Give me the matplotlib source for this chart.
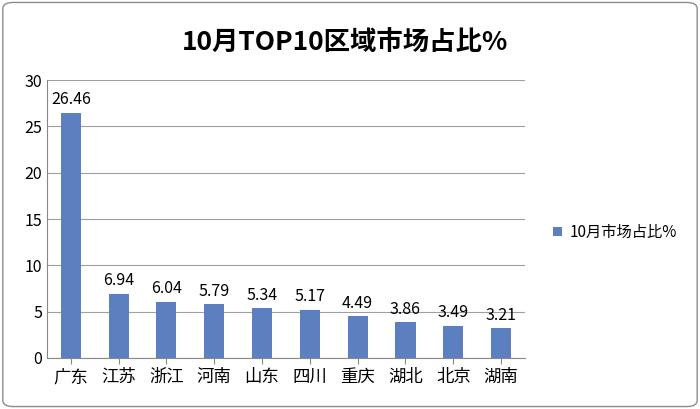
import matplotlib
matplotlib.use("Agg")
import matplotlib.pyplot as plt
from matplotlib import font_manager as fm
from matplotlib.patches import FancyBboxPatch

names = sorted({f.name for f in fm.fontManager.ttflist})
cjk = [n for n in names if "CJK" in n]
fam = cjk[0] if cjk else "DejaVu Sans"
for pref in ["Noto Sans CJK SC", "Noto Sans CJK JP"]:
    if pref in cjk:
        fam = pref
        break
plt.rcParams["font.family"] = [fam, "DejaVu Sans"]

categories = ["广东", "江苏", "浙江", "河南", "山东", "四川", "重庆", "湖北", "北京", "湖南"]
values = [26.46, 6.94, 6.04, 5.79, 5.34, 5.17, 4.49, 3.86, 3.49, 3.21]
series_name = "10月市场占比%"
title = "10月TOP10区域市场占比%"

fig = plt.figure(figsize=(7, 4.09), dpi=100)
fig.patches.append(FancyBboxPatch((0.004, 0.006), 0.992, 0.988, boxstyle="round,pad=0,rounding_size=0.015",
                                  transform=fig.transFigure, fill=False, edgecolor="#8c8c8c", linewidth=1))
ax = fig.add_axes([0.067, 0.125, 0.683, 0.679])
color = "#5B7FBF"
x = range(len(categories))
bars = ax.bar(x, values, width=0.42, color=color, label=series_name, zorder=3)
for xi, v in zip(x, values):
    ax.text(xi, v + 0.5, f"{v:.2f}", ha="center", va="bottom", fontsize=11.5)
ax.set_ylim(0, 30)
ax.set_xlim(-0.5, len(categories) - 0.5)
ax.set_yticks(range(0, 31, 5))
ax.set_xticks(list(x))
ax.set_xticklabels(categories, fontsize=12.5)
ax.tick_params(axis="y", labelsize=11.5, length=0)
ax.tick_params(axis="x", length=4, color="#888888")
ax.yaxis.grid(True, color="#a0a0a0", linewidth=0.8, zorder=0)
for s in ["top", "right"]:
    ax.spines[s].set_visible(False)
ax.spines["left"].set_color("#888888")
ax.spines["bottom"].set_color("#888888")
fig.text(0.493, 0.895, title, ha="center", va="center", fontsize=19, fontweight="bold")
fig.legend(handles=[bars], labels=[series_name], loc="center left", bbox_to_anchor=(0.77, 0.432),
           frameon=False, fontsize=11, handlelength=0.6, handleheight=0.6, handletextpad=0.5)
fig.savefig("out.png", dpi=100)
